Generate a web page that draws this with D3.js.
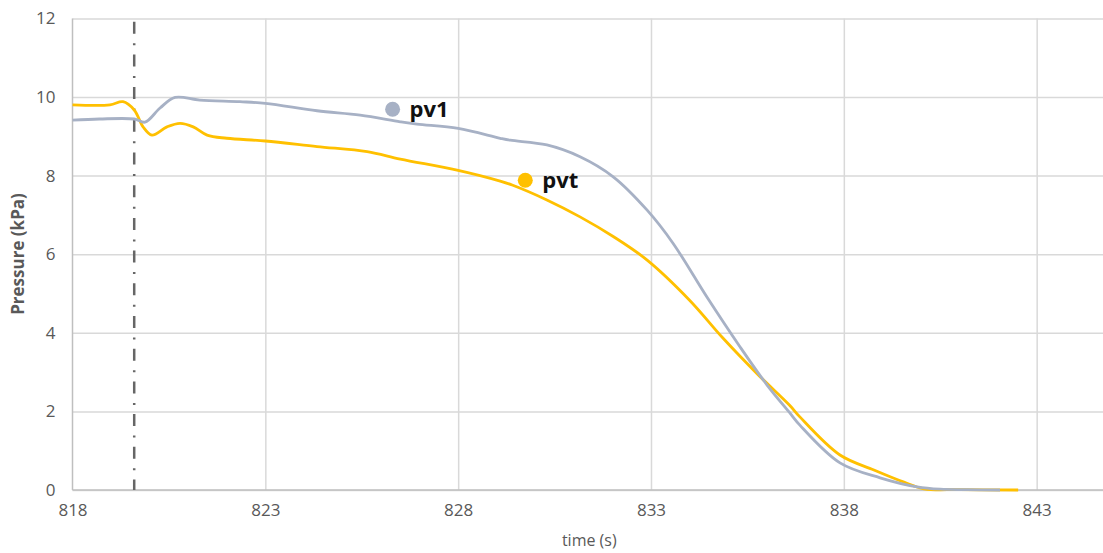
<!DOCTYPE html>
<html>
<head>
<meta charset="utf-8">
<script src="https://cdn.jsdelivr.net/npm/d3@7"></script>
<style>
html,body{margin:0;padding:0;background:#fff;}
svg{display:block;}
</style>
</head>
<body>
<svg id="chart" width="1103" height="553"></svg>
<script>
// ---- data ----
const pv1Time   = [818, 818.7, 819.6, 819.88, 820.27, 820.66, 821.3, 822.34, 823, 824.34, 825.46, 826.5, 826.93, 828, 829.09, 829.35, 830.3, 831.16, 832.02, 832.9, 833.57, 834.45, 835.31, 836.01, 836.6, 836.86, 837.9, 838.94, 839.9, 840.5, 841.2, 842.05];
const pv1Values = [9.41, 9.44, 9.44, 9.36, 9.72, 9.99, 9.92, 9.88, 9.84, 9.65, 9.54, 9.37, 9.31, 9.2, 8.95, 8.9, 8.78, 8.48, 7.97, 7.12, 6.28, 4.91, 3.64, 2.67, 1.96, 1.65, 0.69, 0.31, 0.08, 0.02, 0.01, 0];
const pvtTime   = [818, 818.97, 819.31, 819.6, 819.83, 820.06, 820.45, 820.79, 821.13, 821.49, 822.0, 823, 824.34, 825.64, 826.5, 827.97, 829.09, 829.4, 830.3, 831.16, 832.02, 832.9, 834.0, 834.87, 835.75, 836.6, 836.86, 837.9, 838.78, 839.56, 840.08, 841.0, 842.52];
const pvtValues = [9.8, 9.8, 9.88, 9.67, 9.24, 9.03, 9.24, 9.33, 9.24, 9.03, 8.95, 8.88, 8.74, 8.61, 8.42, 8.14, 7.86, 7.76, 7.38, 6.95, 6.45, 5.85, 4.83, 3.86, 2.96, 2.15, 1.86, 0.89, 0.51, 0.2, 0.03, 0.01, 0];
const xTicks = [818, 823, 828, 833, 838, 843];
const yTicks = [0, 2, 4, 6, 8, 10, 12];
const markerTime = 819.6;
const seriesNames = ["pv1", "pvt"];

// ---- layout ----
const svg = d3.select("#chart");
const mLeft = 72.5, mRight = 1103, mTop = 18.4, mBottom = 490;
const x = d3.scaleLinear().domain([818, 844.72]).range([mLeft, mRight]);
const y = d3.scaleLinear().domain([0, 12]).range([mBottom, mTop]);

const tickColor = "#595959";
const gridColor = "#D9D9D9";

// gridlines
svg.append("g")
  .attr("transform", `translate(${mLeft},0)`)
  .call(d3.axisLeft(y).tickValues(yTicks).tickSize(-(mRight - mLeft)).tickFormat(""))
  .call(g => g.select(".domain").remove())
  .call(g => g.selectAll("line").attr("stroke", gridColor).attr("stroke-width", 1.5));
svg.append("g")
  .attr("transform", `translate(0,${mBottom})`)
  .call(d3.axisBottom(x).tickValues(xTicks.slice(1)).tickSize(-(mBottom - mTop)).tickFormat(""))
  .call(g => g.select(".domain").remove())
  .call(g => g.selectAll("line").attr("stroke", gridColor).attr("stroke-width", 1.5));

// axis lines
svg.append("line").attr("x1", mLeft).attr("x2", mLeft).attr("y1", mTop).attr("y2", mBottom)
  .attr("stroke", "#BFBFBF").attr("stroke-width", 1.5);
svg.append("line").attr("x1", mLeft).attr("x2", mRight).attr("y1", mBottom).attr("y2", mBottom)
  .attr("stroke", "#BFBFBF").attr("stroke-width", 1.5);

// tick labels
svg.append("g")
  .attr("transform", `translate(${mLeft},0)`)
  .call(d3.axisLeft(y).tickValues(yTicks).tickSize(0).tickPadding(17))
  .call(g => g.select(".domain").remove())
  .call(g => g.selectAll("text").attr("fill", tickColor)
      .style("font-family", "'Open Sans', sans-serif").style("font-size", "17px"));
svg.append("g")
  .attr("transform", `translate(0,${mBottom})`)
  .call(d3.axisBottom(x).tickValues(xTicks).tickSize(0).tickPadding(14))
  .call(g => g.select(".domain").remove())
  .call(g => g.selectAll("text").attr("fill", tickColor)
      .style("font-family", "'Open Sans', sans-serif").style("font-size", "17px"));

// axis titles
svg.append("text")
  .attr("x", x(831.4)).attr("y", 546)
  .attr("text-anchor", "middle")
  .attr("fill", tickColor)
  .style("font-family", "'Open Sans', sans-serif").style("font-size", "16px")
  .text("time (s)");
svg.append("text")
  .attr("transform", `translate(24,${254}) rotate(-90)`)
  .attr("text-anchor", "middle")
  .attr("fill", tickColor)
  .style("font-family", "'Open Sans', sans-serif").style("font-size", "17px").style("font-weight", "bold")
  .text("Pressure (kPa)");

// dash-dot marker line
svg.append("line")
  .attr("x1", x(markerTime)).attr("x2", x(markerTime))
  .attr("y1", 21.7).attr("y2", mBottom)
  .attr("stroke", "#666666").attr("stroke-width", 2.5)
  .attr("stroke-dasharray", "12,9.5,2,9.2");

// lines
const line = d3.line().x(d => x(d[0])).y(d => y(d[1])).curve(d3.curveCatmullRom.alpha(0.5));
const colors = {pv1: "#A7B1C5", pvt: "#FFC000"};
const pvtData = pvtTime.map((t, i) => [t, pvtValues[i]]);
const pv1Data = pv1Time.map((t, i) => [t, pv1Values[i]]);
svg.append("path").datum(pvtData).attr("d", line)
  .attr("fill", "none").attr("stroke", colors.pvt).attr("stroke-width", 2.8);
svg.append("path").datum(pv1Data).attr("d", line)
  .attr("fill", "none").attr("stroke", colors.pv1).attr("stroke-width", 2.8);

// labels
const labels = [
  {name: seriesNames[0], t: 826.3, v: 9.69},
  {name: seriesNames[1], t: 829.74, v: 7.88}
];
labels.forEach(l => {
  svg.append("circle").attr("cx", x(l.t)).attr("cy", y(l.v)).attr("r", 7.5)
    .attr("fill", colors[l.name]);
  svg.append("text").attr("x", x(l.t) + 17).attr("y", y(l.v) + 7.5)
    .attr("fill", "#111")
    .style("font-family", "'Open Sans', sans-serif").style("font-size", "22px").style("font-weight", "bold")
    .text(l.name);
});
</script>
</body>
</html>
